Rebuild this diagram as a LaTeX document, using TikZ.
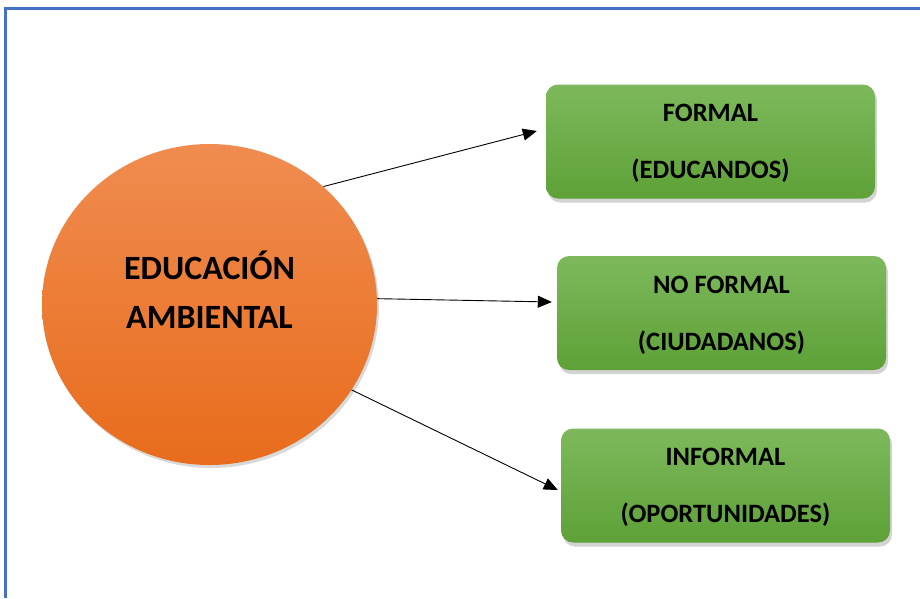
\documentclass[tikz,border=0pt]{standalone}
\usepackage{fontspec}
\setmainfont{Carlito}
\definecolor{frameblue}{HTML}{4472C4}
\definecolor{orangetop}{HTML}{F08C50}
\definecolor{orangebot}{HTML}{E86C1C}
\definecolor{greentop}{HTML}{7DB95C}
\definecolor{greenbot}{HTML}{5EA137}
\usetikzlibrary{arrows.meta,calc,positioning,shapes.geometric,shadows}

\begin{document}
\begin{tikzpicture}[
  x=1pt, y=-1pt,
  frame/.style={draw=frameblue,line width=3pt},
  circ/.style={ellipse,inner sep=0pt,minimum width=335pt,minimum height=321pt,
    top color=orangetop,bottom color=orangebot,
    drop shadow={shadow xshift=2pt,shadow yshift=-3pt,opacity=0.3}},
  circtext/.style={font=\fontsize{34}{49}\selectfont\bfseries,align=center},
  box/.style={rounded corners=12pt,minimum width=329pt,minimum height=114pt,
    top color=greentop,bottom color=greenbot,align=center,text depth=-3pt,
    font=\fontsize{26.5}{57}\selectfont\bfseries,
    drop shadow={shadow xshift=2pt,shadow yshift=-4pt,opacity=0.35}},
  arr/.style={-{Triangle[length=14pt,width=12pt]},line width=0.9pt}
]
\useasboundingbox (0,0) rectangle (920,598);
\draw[frame] (5.5,598) -- (5.5,8) -- (920,8);

\node[circ] (edu) at (209.5,304.5) {};
\node[circtext] (edutext) at ($(edu.center)+(0,-15)$) {EDUCACIÓN\\AMBIENTAL};

\node[box] (formal) at (710.5,141.5) {FORMAL\\(EDUCANDOS)};
\node[box] (noformal) at (721.5,313) {NO FORMAL\\(CIUDADANOS)};
\node[box] (informal) at (725.5,485.5) {INFORMAL\\(OPORTUNIDADES)};

% arrow tips stop just short of the boxes
\coordinate (tipformal) at ($(formal.west)+(-9,-10.5)$);
\coordinate (tipnoformal) at ($(noformal.west)+(-5,-11)$);
\coordinate (tipinformal) at ($(informal.west)+(-3,4.5)$);

\draw[arr] (edu.46.5) -- (tipformal);
\draw[arr] (edu.2.2) -- (tipnoformal);
\draw[arr] (edu.-31) -- (tipinformal);
\end{tikzpicture}
\end{document}
